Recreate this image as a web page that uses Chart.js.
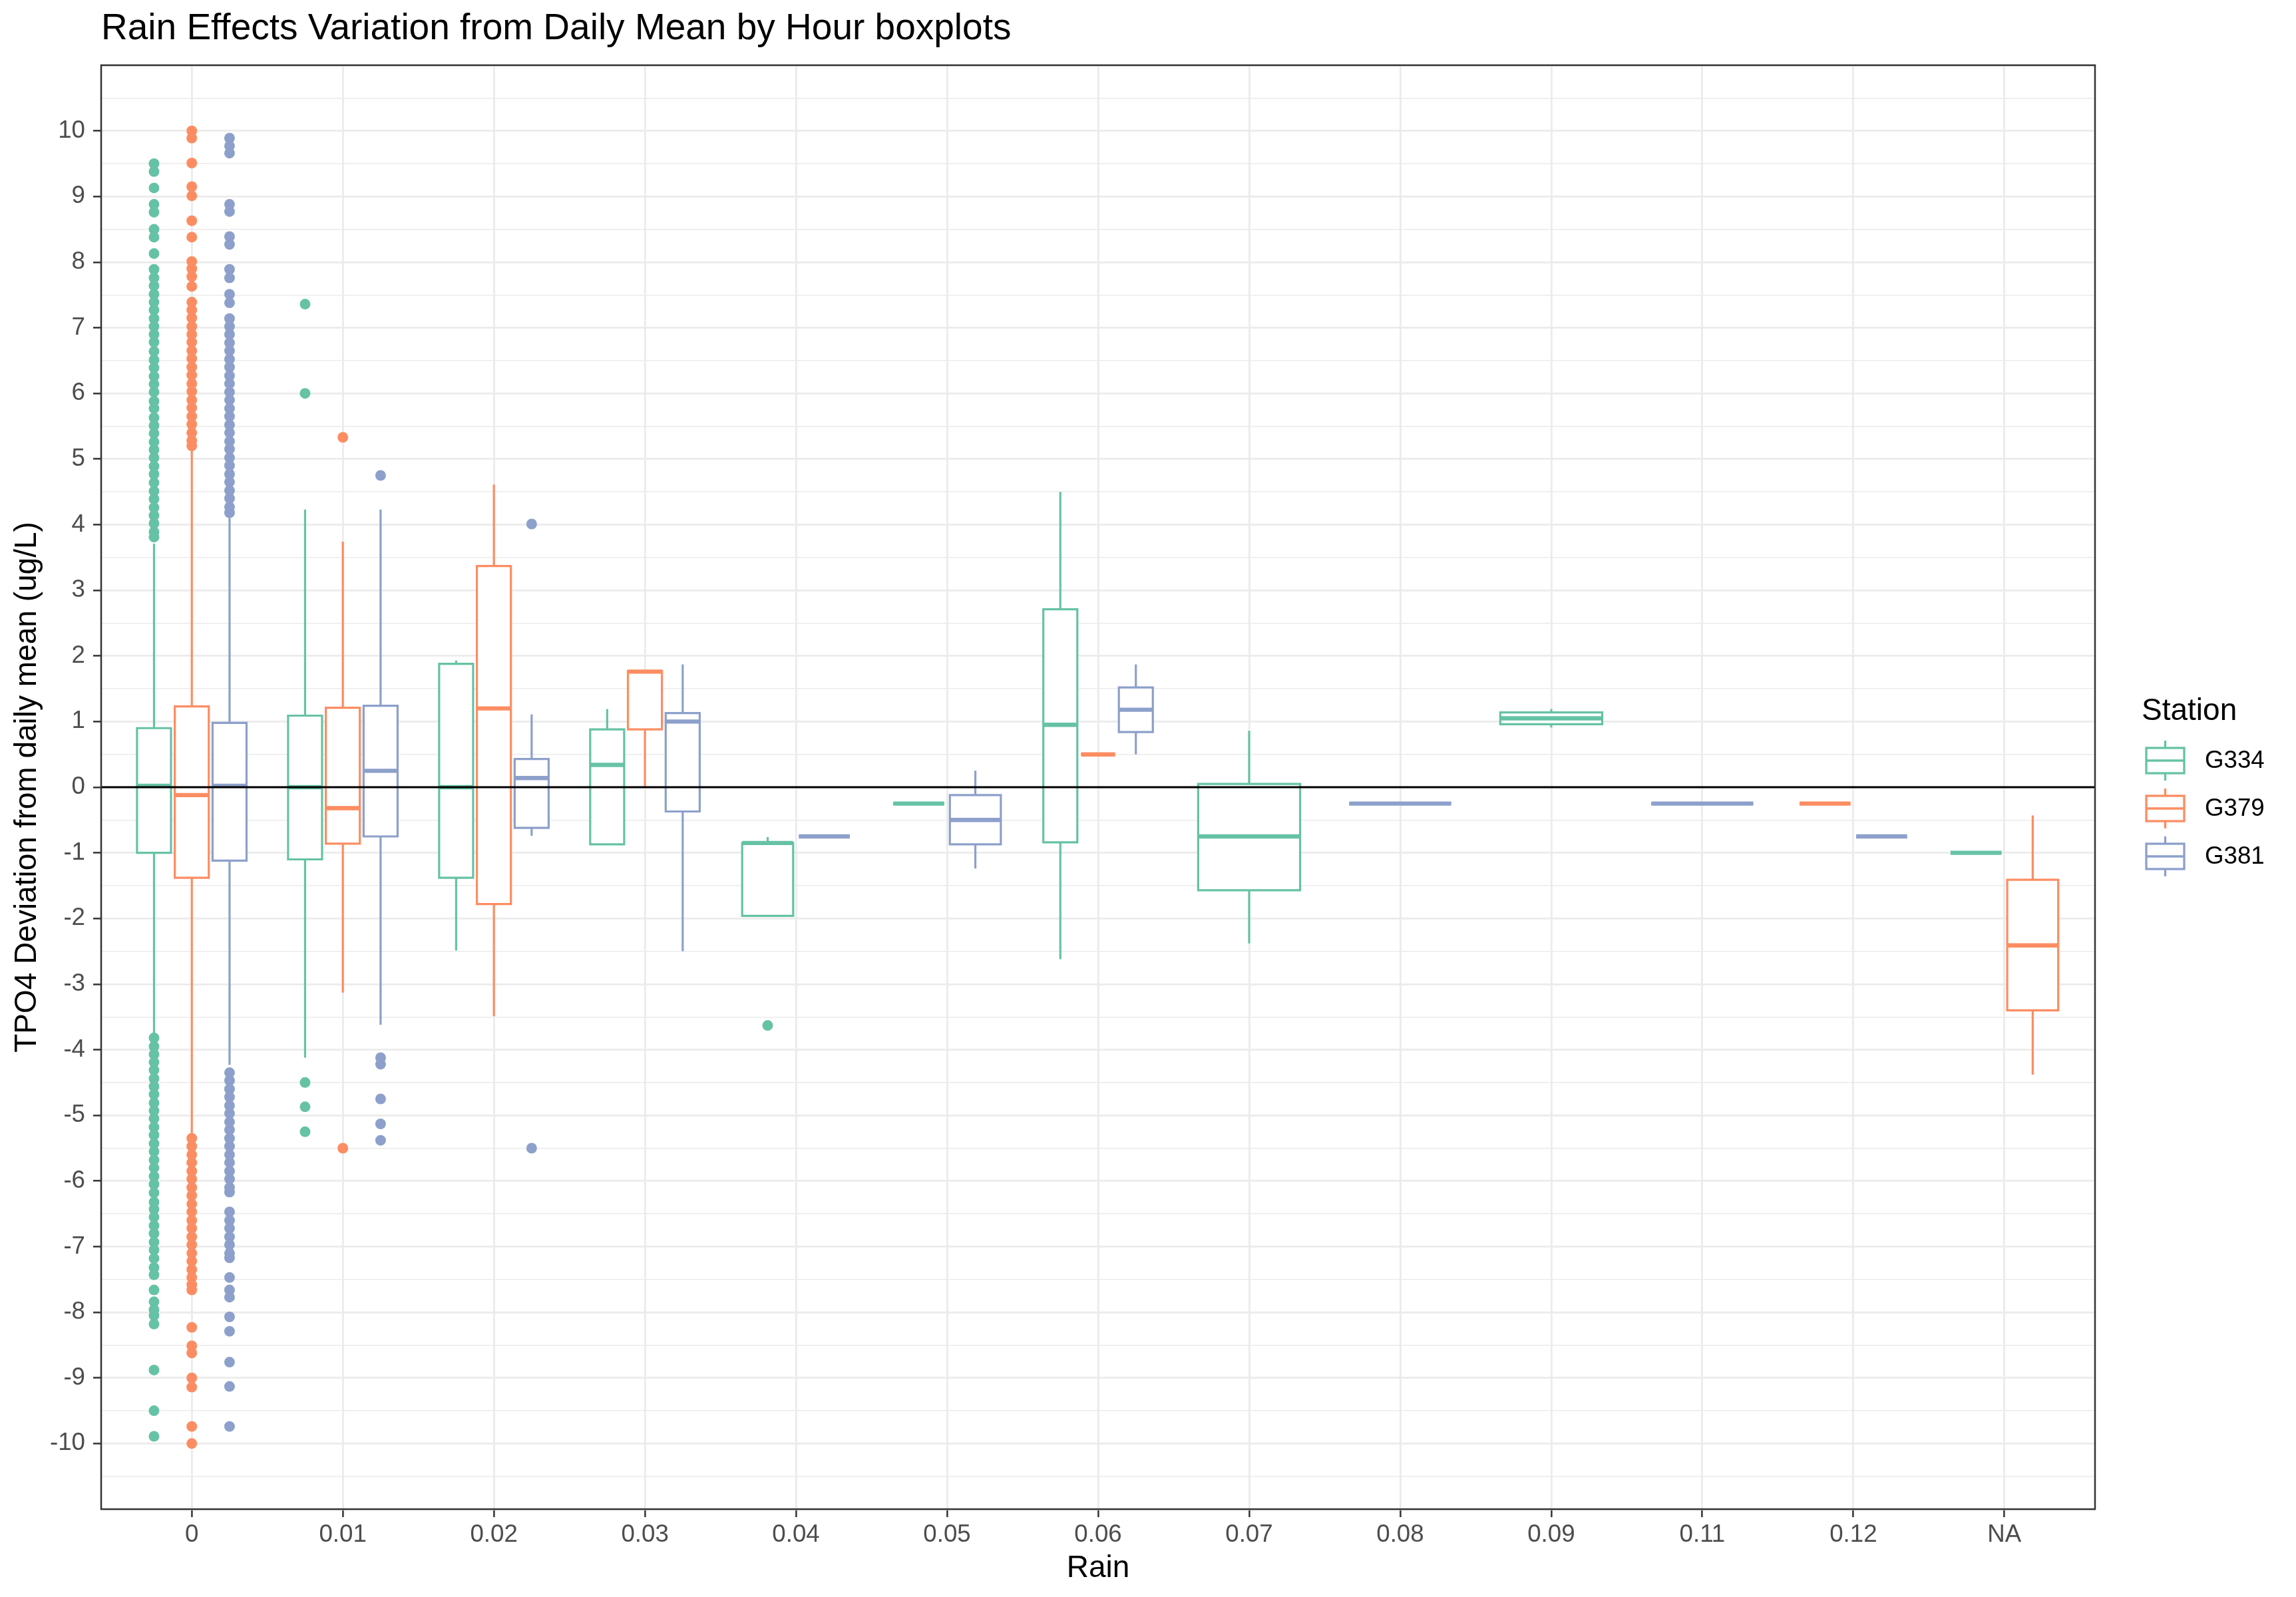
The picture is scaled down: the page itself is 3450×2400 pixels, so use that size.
<!DOCTYPE html>
<html>
<head>
<meta charset="utf-8">
<script src="https://cdn.jsdelivr.net/npm/chart.js@4.4.1/dist/chart.umd.min.js"></script>
<style>html,body{margin:0;padding:0;background:#ffffff}canvas{display:block}</style>
</head>
<body>
<canvas id="c" width="3450" height="2400" style="width:3450px;height:2400px"></canvas>
<script>
// ---------------- DATA ----------------
const TITLE = 'Rain Effects Variation from Daily Mean by Hour boxplots';
const X_TITLE = 'Rain';
const Y_TITLE = 'TPO4 Deviation from daily mean (ug/L)';
const LEGEND_TITLE = 'Station';
const categories = ['0', '0.01', '0.02', '0.03', '0.04', '0.05', '0.06', '0.07', '0.08', '0.09', '0.11', '0.12', 'NA'];
const stationNames = ['G334', 'G379', 'G381'];
const stationColors = ['#66C2A5', '#FC8D62', '#8DA0CB'];
const yMin = -11, yMax = 11;

// G334
const g334Low  = [-3.79, -4.12, -2.49, -0.87, -1.96, -0.25, -2.62, -2.38, null, 0.91, null, null, -1.00];
const g334Q1   = [-1.00, -1.10, -1.38, -0.87, -1.96, -0.25, -0.84, -1.57, null, 0.96, null, null, -1.00];
const g334Med  = [ 0.02,  0.00,  0.00,  0.34, -0.85, -0.25,  0.95, -0.75, null, 1.05, null, null, -1.00];
const g334Q3   = [ 0.90,  1.09,  1.88,  0.88, -0.85, -0.25,  2.71,  0.05, null, 1.14, null, null, -1.00];
const g334High = [ 3.71,  4.23,  1.93,  1.19, -0.76, -0.25,  4.50,  0.86, null, 1.19, null, null, -1.00];
// G379
const g379Low  = [-5.28, -3.13, -3.49, 0.00, null, null, 0.50, null, null, null, null, -0.25, -4.38];
const g379Q1   = [-1.38, -0.86, -1.78, 0.88, null, null, 0.50, null, null, null, null, -0.25, -3.40];
const g379Med  = [-0.12, -0.32,  1.20, 1.76, null, null, 0.50, null, null, null, null, -0.25, -2.41];
const g379Q3   = [ 1.23,  1.21,  3.37, 1.77, null, null, 0.50, null, null, null, null, -0.25, -1.41];
const g379High = [ 5.14,  3.74,  4.61, 1.77, null, null, 0.50, null, null, null, null, -0.25, -0.43];
// G381
const g381Low  = [-4.23, -3.62, -0.74, -2.50, -0.75, -1.24, 0.50, null, -0.25, null, -0.25, -0.75, null];
const g381Q1   = [-1.12, -0.75, -0.62, -0.37, -0.75, -0.87, 0.84, null, -0.25, null, -0.25, -0.75, null];
const g381Med  = [ 0.02,  0.25,  0.14,  1.00, -0.75, -0.50, 1.18, null, -0.25, null, -0.25, -0.75, null];
const g381Q3   = [ 0.98,  1.24,  0.43,  1.13, -0.75, -0.12, 1.52, null, -0.25, null, -0.25, -0.75, null];
const g381High = [ 4.10,  4.23,  1.11,  1.87, -0.75,  0.25, 1.87, null, -0.25, null, -0.25, -0.75, null];

// outliers (category label -> values)
const g334Outliers = {
  '0': [9.50, 9.38, 9.13, 8.88, 8.76, 8.50, 8.38, 8.13, 7.89, 7.76, 7.64, 7.51, 7.39, 7.27, 7.14, 7.02, 6.90, 6.78,
        6.64, 6.51, 6.39, 6.26, 6.14, 6.02, 5.88, 5.77, 5.63, 5.51, 5.39, 5.26, 5.14, 5.02, 4.89, 4.77, 4.64, 4.51,
        4.39, 4.26, 4.14, 4.02, 3.89, 3.81,
        -3.82, -3.95, -4.07, -4.19, -4.31, -4.44, -4.56, -4.68, -4.81, -4.93, -5.05, -5.18, -5.30, -5.43, -5.55,
        -5.68, -5.80, -5.93, -6.05, -6.18, -6.32, -6.43, -6.55, -6.68, -6.80, -6.93, -7.05, -7.18, -7.32, -7.43,
        -7.66, -7.84, -7.96, -8.05, -8.18, -8.88, -9.50, -9.89],
  '0.01': [7.36, 6.00, -4.50, -4.87, -5.25],
  '0.04': [-3.63]
};
const g379Outliers = {
  '0': [10.00, 9.89, 9.51, 9.15, 9.01, 8.63, 8.38, 8.01, 7.90, 7.78, 7.63, 7.39, 7.27, 7.15, 7.02, 6.90, 6.78, 6.65,
        6.53, 6.40, 6.28, 6.15, 6.03, 5.90, 5.78, 5.65, 5.53, 5.40, 5.28, 5.20,
        -5.35, -5.47, -5.60, -5.72, -5.85, -5.97, -6.10, -6.22, -6.35, -6.47, -6.60, -6.72, -6.85, -6.97, -7.10,
        -7.22, -7.35, -7.47, -7.58, -7.66, -8.23, -8.51, -8.62, -9.00, -9.14, -9.74, -10.00],
  '0.01': [5.33, -5.50]
};
const g381Outliers = {
  '0': [9.89, 9.77, 9.66, 8.88, 8.77, 8.39, 8.27, 7.89, 7.76, 7.51, 7.38, 7.14, 7.02, 6.90, 6.77, 6.65, 6.52, 6.40,
        6.27, 6.15, 6.02, 5.90, 5.77, 5.65, 5.52, 5.40, 5.27, 5.15, 5.02, 4.90, 4.77, 4.65, 4.52, 4.40, 4.27, 4.18,
        -4.35, -4.47, -4.60, -4.72, -4.85, -4.97, -5.10, -5.22, -5.35, -5.47, -5.60, -5.72, -5.85, -5.97, -6.10,
        -6.17, -6.47, -6.60, -6.72, -6.85, -6.97, -7.10, -7.17, -7.47, -7.66, -7.77, -8.07, -8.29, -8.76, -9.13, -9.74],
  '0.01': [4.75, -4.12, -4.22, -4.75, -5.13, -5.38],
  '0.02': [4.01, -5.50]
};

// ---------------- BUILD ----------------
const stationStats = [
  {low: g334Low, q1: g334Q1, med: g334Med, q3: g334Q3, high: g334High, out: g334Outliers},
  {low: g379Low, q1: g379Q1, med: g379Med, q3: g379Q3, high: g379High, out: g379Outliers},
  {low: g381Low, q1: g381Q1, med: g381Med, q3: g381Q3, high: g381High, out: g381Outliers}
];
const GROUP_WIDTH = 0.75, BOX_SHRINK = 0.9;

function dodge(ci, si) {
  const present = stationStats.map((_, k) => k).filter(k => stationStats[k].q1[ci] !== null);
  const n = present.length, k = present.indexOf(si);
  const slot = GROUP_WIDTH / n;
  return {center: ci - GROUP_WIDTH / 2 + slot * (k + 0.5), half: slot * BOX_SHRINK / 2};
}

const datasets = stationNames.map((name, si) => {
  const pts = [];
  const out = stationStats[si].out;
  Object.keys(out).forEach(cat => {
    const ci = categories.indexOf(cat);
    const {center} = dodge(ci, si);
    out[cat].forEach(v => pts.push({x: center, y: v}));
  });
  return {
    label: name, type: 'scatter', data: pts,
    backgroundColor: stationColors[si], borderWidth: 0,
    pointRadius: 8, pointHoverRadius: 8
  };
});

const FONT = '"Liberation Sans", Arial, sans-serif';

const boxPlugin = {
  id: 'boxes',
  beforeDatasetsDraw(chart) {
    const {ctx, chartArea, scales: {x, y}} = chart;
    ctx.save();
    ctx.beginPath();
    ctx.rect(chartArea.left, chartArea.top, chartArea.right - chartArea.left, chartArea.bottom - chartArea.top);
    ctx.clip();
    ctx.lineJoin = 'miter';
    ctx.lineCap = 'butt';
    stationStats.forEach((st, si) => {
      categories.forEach((c, ci) => {
        if (st.q1[ci] === null) return;
        const {center, half} = dodge(ci, si);
        const xc = x.getPixelForValue(center);
        const xl = x.getPixelForValue(center - half);
        const xr = x.getPixelForValue(center + half);
        const yl = y.getPixelForValue(st.low[ci]);
        const y1 = y.getPixelForValue(st.q1[ci]);
        const ym = y.getPixelForValue(st.med[ci]);
        const y3 = y.getPixelForValue(st.q3[ci]);
        const yh = y.getPixelForValue(st.high[ci]);
        ctx.strokeStyle = stationColors[si];
        ctx.lineWidth = 3.2;
        ctx.beginPath();
        ctx.moveTo(xc, yl); ctx.lineTo(xc, y1);
        ctx.moveTo(xc, y3); ctx.lineTo(xc, yh);
        ctx.stroke();
        ctx.fillStyle = '#ffffff';
        ctx.fillRect(xl, y3, xr - xl, y1 - y3);
        ctx.beginPath();
        ctx.rect(xl, y3, xr - xl, y1 - y3);
        ctx.stroke();
        ctx.lineWidth = 6.4;
        ctx.beginPath();
        ctx.moveTo(xl, ym); ctx.lineTo(xr, ym);
        ctx.stroke();
      });
    });
    ctx.restore();
  },
  afterDatasetsDraw(chart) {
    const {ctx, chartArea, scales: {y}} = chart;
    const y0 = y.getPixelForValue(0);
    ctx.save();
    ctx.strokeStyle = '#000000';
    ctx.lineWidth = 3.2;
    ctx.beginPath();
    ctx.moveTo(chartArea.left, y0); ctx.lineTo(chartArea.right, y0);
    ctx.stroke();
    ctx.restore();
  },
  afterDraw(chart) {
    const {ctx, chartArea} = chart;
    ctx.save();
    // panel border
    ctx.strokeStyle = '#333333';
    ctx.lineWidth = 2.5;
    ctx.strokeRect(chartArea.left, chartArea.top, chartArea.right - chartArea.left, chartArea.bottom - chartArea.top);
    // legend
    const lx = chartArea.right + 70;
    ctx.fillStyle = '#000000';
    ctx.font = '46px ' + FONT;
    ctx.textBaseline = 'alphabetic';
    ctx.textAlign = 'left';
    ctx.fillText(LEGEND_TITLE, lx, 1082);
    stationNames.forEach((name, i) => {
      const cy = 1143 + i * 72;
      const bx = lx + 7, bw = 57, bh = 38;
      const cx = bx + bw / 2;
      ctx.strokeStyle = stationColors[i];
      ctx.lineWidth = 3.3;
      ctx.beginPath();
      ctx.moveTo(cx, cy - 30); ctx.lineTo(cx, cy - bh / 2);
      ctx.moveTo(cx, cy + bh / 2); ctx.lineTo(cx, cy + 30);
      ctx.stroke();
      ctx.fillStyle = '#ffffff';
      ctx.fillRect(bx, cy - bh / 2, bw, bh);
      ctx.strokeRect(bx, cy - bh / 2, bw, bh);
      ctx.beginPath();
      ctx.moveTo(bx, cy); ctx.lineTo(bx + bw, cy);
      ctx.stroke();
      ctx.fillStyle = '#000000';
      ctx.font = '36.7px ' + FONT;
      ctx.textBaseline = 'middle';
      ctx.fillText(name, lx + 95, cy + 1);
    });
    ctx.restore();
  }
};

Chart.defaults.font.family = FONT;

new Chart(document.getElementById('c'), {
  type: 'scatter',
  data: {datasets},
  plugins: [boxPlugin],
  options: {
    responsive: false,
    devicePixelRatio: 1,
    animation: false,
    events: [],
    layout: {padding: {left: 0, right: 302, top: 0, bottom: 0}},
    plugins: {
      legend: {display: false},
      tooltip: {enabled: false},
      title: {
        display: true, text: TITLE, align: 'start', fullSize: false,
        color: '#000000', font: {size: 55, weight: 'normal'},
        padding: {top: 11, bottom: 21}
      }
    },
    scales: {
      x: {
        type: 'linear', min: -0.6, max: 12.6,
        afterBuildTicks: s => { s.ticks = categories.map((c, i) => ({value: i})); },
        afterFit: s => { s.height = 132; },
        ticks: {
          autoSkip: false, maxRotation: 0, padding: 5,
          color: '#4D4D4D', font: {size: 36.7},
          callback: v => categories[v]
        },
        grid: {color: '#EBEBEB', lineWidth: 2.8, tickColor: '#333333', tickLength: 12, tickWidth: 2.5},
        border: {display: false},
        title: {display: true, text: X_TITLE, color: '#000000', font: {size: 46}, padding: {top: 0, bottom: 15}}
      },
      y: {
        type: 'linear', min: yMin, max: yMax,
        afterBuildTicks: s => {
          const t = [];
          for (let k = yMin * 2; k <= yMax * 2; k++) t.push({value: k / 2});
          s.ticks = t;
        },
        afterFit: s => { s.width = 152; },
        ticks: {
          autoSkip: false, padding: 12,
          color: '#4D4D4D', font: {size: 36.7},
          callback: v => (Number.isInteger(v) && Math.abs(v) <= 10) ? String(v) : ''
        },
        grid: {
          color: '#EBEBEB',
          lineWidth: c => (c.tick && Number.isInteger(c.tick.value)) ? 2.8 : 1.4,
          tickColor: c => (c.tick && Number.isInteger(c.tick.value) && Math.abs(c.tick.value) <= 10) ? '#333333' : 'rgba(0,0,0,0)',
          tickLength: 12, tickWidth: 2.5
        },
        border: {display: false},
        title: {display: true, text: Y_TITLE, color: '#000000', font: {size: 46}, padding: {top: 14, bottom: 0}}
      }
    }
  }
});
</script>
</body>
</html>
